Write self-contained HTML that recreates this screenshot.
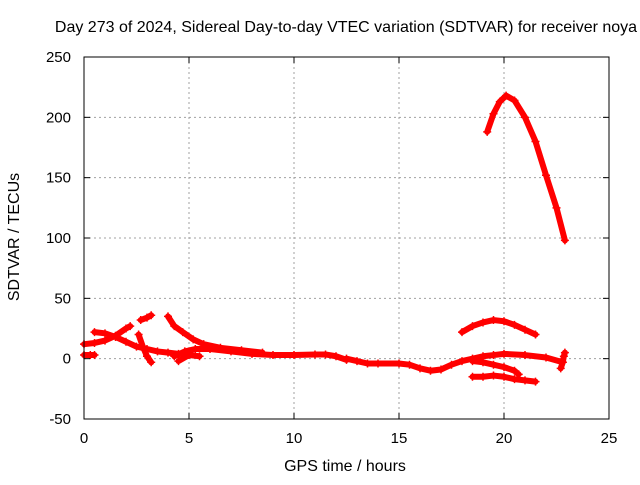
<!DOCTYPE html>
<html><head><meta charset="utf-8"><style>
body{margin:0;background:#fff}
svg{font-family:"Liberation Sans",sans-serif;font-size:15px}
</style></head><body>
<svg width="640" height="480" id="c">
<rect width="640" height="480" fill="#fff"/>
<text x="346" y="32" text-anchor="middle" font-size="16">Day 273 of 2024, Sidereal Day-to-day VTEC variation (SDTVAR) for receiver noya</text>
<text x="345" y="471" text-anchor="middle" font-size="16">GPS time / hours</text>
<text transform="translate(19,237) rotate(-90)" text-anchor="middle" font-size="16">SDTVAR / TECUs</text>
<g id="grid"></g><g id="data"></g><g id="axes"></g>
</svg>
<script>
const xTicks=[0,5,10,15,20,25];
const yTicks=[-50,0,50,100,150,200,250];
const track1=[[0,12],[0.5,13],[1,15],[1.5,19],[2,25],[2.2,27]];
const track2=[[0.5,22],[1,21],[1.5,18],[2,14],[2.5,10],[3,8],[3.5,6],[4,5],[4.5,4],[5,4.5]];
const track3=[[0,3],[0.3,3],[0.5,3]];
const track4=[[2.7,32],[3.0,34],[3.2,36]];
const track5=[[2.6,20],[2.8,10],[3.0,2],[3.2,-3]];
const track6=[[4,35],[4.3,27],[4.7,22],[5.2,16],[5.7,12],[6.5,9],[7.5,7],[8.5,5]];
const track7=[[4.3,2],[4.8,6],[5.3,8],[6,8],[7,6],[8,4],[9,3],[10,3],[11,3.5],[11.5,3.5],[12,2],[12.5,-1]];
const track8=[[4.5,-2],[5,3],[5.5,2]];
const track9=[[12.5,0],[13,-2],[13.5,-4],[14,-4],[15,-4],[15.5,-5],[16,-8],[16.5,-10],[17,-9],[17.5,-5],[18,-2],[18.5,0],[19,2],[19.5,3],[20,4],[21,3],[22,1],[22.8,-3]];
const track10=[[18,22],[18.5,27],[19,30],[19.5,32],[20,31],[20.5,28],[21,24],[21.5,20]];
const track11=[[18.5,-2],[19,-3],[19.5,-5],[20,-7],[20.5,-10],[20.7,-13]];
const track12=[[18.5,-15],[19,-15],[19.5,-14],[20,-15],[20.5,-17],[21,-18],[21.5,-19]];
const track13=[[22.7,-8],[22.8,-3],[22.85,2],[22.9,5]];
const track14=[[19.2,188],[19.5,203],[19.8,213],[20.1,218],[20.5,214],[21,200],[21.5,180],[22,152],[22.5,125],[22.9,98]];
const tracks=[track1,track2,track3,track4,track5,track6,track7,track8,track9,track10,track11,track12,track13,track14];
const NS="http://www.w3.org/2000/svg";
const X0=84,X1=609,Y0=419,Y1=57;
const sx=v=>X0+(v-0)/(25-0)*(X1-X0);
const sy=v=>Y0-(v+50)/(300)*(Y0-Y1);
function mk(t,a,p){const e=document.createElementNS(NS,t);for(const k in a)e.setAttribute(k,a[k]);p.appendChild(e);return e;}
const grid=document.getElementById('grid'),axes=document.getElementById('axes'),data=document.getElementById('data');
xTicks.forEach(t=>{
 if(t>0&&t<25){const l=mk('line',{x1:sx(t),x2:sx(t),y1:Y1,y2:Y0,stroke:'#a0a0a0','stroke-dasharray':'2,3'},grid);
 
 }
 mk('line',{x1:sx(t),x2:sx(t),y1:Y0,y2:Y0-6,stroke:'#000'},axes);
 mk('line',{x1:sx(t),x2:sx(t),y1:Y1,y2:Y1+6,stroke:'#000'},axes);
 const tx=mk('text',{x:sx(t),y:Y0+24,'text-anchor':'middle'},axes);tx.textContent=t;
 
 
});
yTicks.forEach(t=>{
 if(t>-50&&t<250){const l=mk('line',{x1:X0,x2:X1,y1:sy(t),y2:sy(t),stroke:'#a0a0a0','stroke-dasharray':'2,3'},grid);
 
 }
 mk('line',{x1:X0,x2:X0+6,y1:sy(t),y2:sy(t),stroke:'#000'},axes);
 mk('line',{x1:X1,x2:X1-6,y1:sy(t),y2:sy(t),stroke:'#000'},axes);
 const tx=mk('text',{x:X0-13,y:sy(t)+5,'text-anchor':'end'},axes);tx.textContent=t;
 
 
});
const fr=mk('rect',{x:X0,y:Y1,width:X1-X0,height:Y0-Y1,fill:'none',stroke:'#000'},axes);


tracks.forEach((tr,i)=>{
 const g=mk('g',{},data);
 
 
 mk('polyline',{points:tr.map(p=>sx(p[0])+','+sy(p[1])).join(' '),fill:'none',stroke:'#f00','stroke-width':6,'stroke-linejoin':'round','stroke-linecap':'round'},g);
 tr.forEach(p=>{const x=sx(p[0]),y=sy(p[1]);
  mk('path',{d:`M${x-4},${y}H${x+4}M${x},${y-4}V${y+4}`,stroke:'#f00','stroke-width':1.5},g);});
});
</script>
</body></html>
